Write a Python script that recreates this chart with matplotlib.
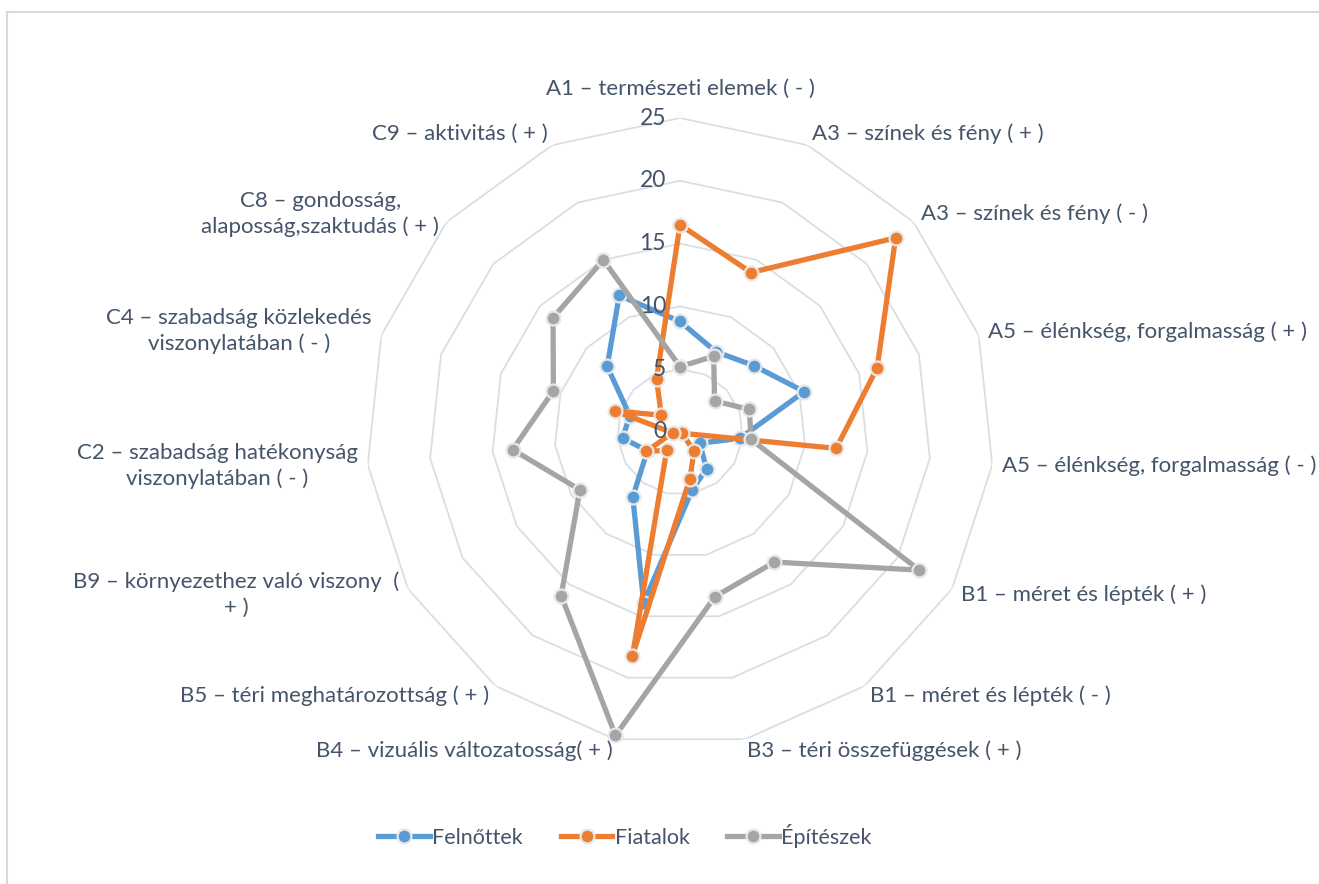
import numpy as np
import matplotlib
matplotlib.use("Agg")
import matplotlib.pyplot as plt
from matplotlib.patches import Rectangle
from matplotlib.lines import Line2D

plt.rcParams['font.family'] = ['Lato', 'DejaVu Sans']

# categories (clockwise from the top)
categories = [
    "A1 – természeti elemek ( - )",
    "A3 – színek és fény ( + )",
    "A3 – színek és fény ( - )",
    "A5 – élénkség, forgalmasság ( + )",
    "A5 – élénkség, forgalmasság ( - )",
    "B1 – méret és lépték ( + )",
    "B1 – méret és lépték ( - )",
    "B3 – téri összefüggések ( + )",
    "B4 – vizuális változatosság( + )",
    "B5 – téri meghatározottság ( + )",
    "B9 – környezethez való viszony  (\n+ )",
    "C2 – szabadság hatékonyság\nviszonylatában ( - )",
    "C4 – szabadság közlekedés\nviszonylatában ( - )",
    "C8 – gondosság,\nalaposság,szaktudás ( + )",
    "C9 – aktivitás ( + )",
]

felnottek = [8.8, 7.0, 7.9, 10.4, 4.8, 1.8, 3.6, 4.7, 13.9, 6.4, 3.0, 4.6, 4.2, 7.8, 11.9]
fiatalok = [16.5, 13.9, 23.1, 16.5, 12.5, 0.2, 1.9, 3.8, 18.2, 1.8, 3.1, 0.6, 5.4, 2.0, 4.6]
epiteszek = [5.2, 6.6, 3.7, 5.8, 5.7, 22.0, 12.8, 13.4, 24.7, 16.1, 9.2, 13.4, 10.6, 13.6, 15.0]

series_names = ["Felnőttek", "Fiatalok", "Építészek"]
colors = ["#5B9BD5", "#ED7D31", "#A5A5A5"]
ticks = [0, 5, 10, 15, 20, 25]

text_color = "#44546A"
grid_color = "#D9DEE6"

W, H = 1319, 884
fig = plt.figure(figsize=(W / 100, H / 100), dpi=100)

cx, cy, R = 680, 432, 314
ax = fig.add_axes([(cx - R) / W, (H - cy - R) / H, 2 * R / W, 2 * R / H], polar=True)
ax.set_theta_zero_location('N')
ax.set_theta_direction(-1)
ax.set_ylim(0, 25)
ax.grid(False)
ax.spines['polar'].set_visible(False)
ax.set_xticks([])
ax.set_yticks([])
ax.patch.set_alpha(0)

n = len(categories)
angles = np.linspace(0, 2 * np.pi, n, endpoint=False)
closed = np.append(angles, angles[0])

# polygon gridlines
for t in ticks[1:]:
    ax.plot(closed, [t] * (n + 1), color=grid_color, lw=1.3, zorder=1)

# series
for vals, c in zip([felnottek, fiatalok, epiteszek], colors):
    v = np.append(vals, vals[0])
    ax.plot(closed, v, color=c, lw=3.8, marker='o', markersize=10,
            markerfacecolor=c, markeredgecolor='#E8E8E8', markeredgewidth=1.6,
            zorder=3, clip_on=False)

# value labels (drawn on top)
for t in ticks:
    ax.annotate(str(t), xy=(0, t), xytext=(-14, 0), textcoords='offset pixels',
                ha='right', va='center', fontsize=16.5, color=text_color, zorder=6)

# category labels
for i, (a, lab) in enumerate(zip(angles, categories)):
    s, c = np.sin(a), np.cos(a)
    if i == 0:
        ax.annotate(lab, xy=(a, 25), xytext=(0, 29), textcoords='offset pixels',
                    ha='center', va='center', fontsize=16, color=text_color)
        continue
    ha = 'left' if s > 0 else 'right'
    ax.annotate(lab, xy=(a, 25), xytext=(10 * s, 12 * c), textcoords='offset pixels',
                ha=ha, va='center', multialignment='center', linespacing=1.35,
                fontsize=16, color=text_color)

# legend
handles = [Line2D([0], [0], color=c, lw=3.8, marker='o', markersize=10,
                  markerfacecolor=c, markeredgecolor='#E8E8E8', markeredgewidth=1.6)
           for c in colors]
leg = fig.legend(handles, series_names, loc='center', bbox_to_anchor=(625 / W, 1 - 836 / H),
                 ncol=3, frameon=False, fontsize=15.5, handlelength=2.4,
                 handletextpad=0.1, columnspacing=1.75)
for t in leg.get_texts():
    t.set_color(text_color)

# chart area border
fig.patches.append(Rectangle((7 / W, -0.1), 1.2, 1.1 - 12 / H, transform=fig.transFigure,
                             fill=False, edgecolor='#D9D9D9', lw=1.5))

fig.savefig("out.png", dpi=100)
